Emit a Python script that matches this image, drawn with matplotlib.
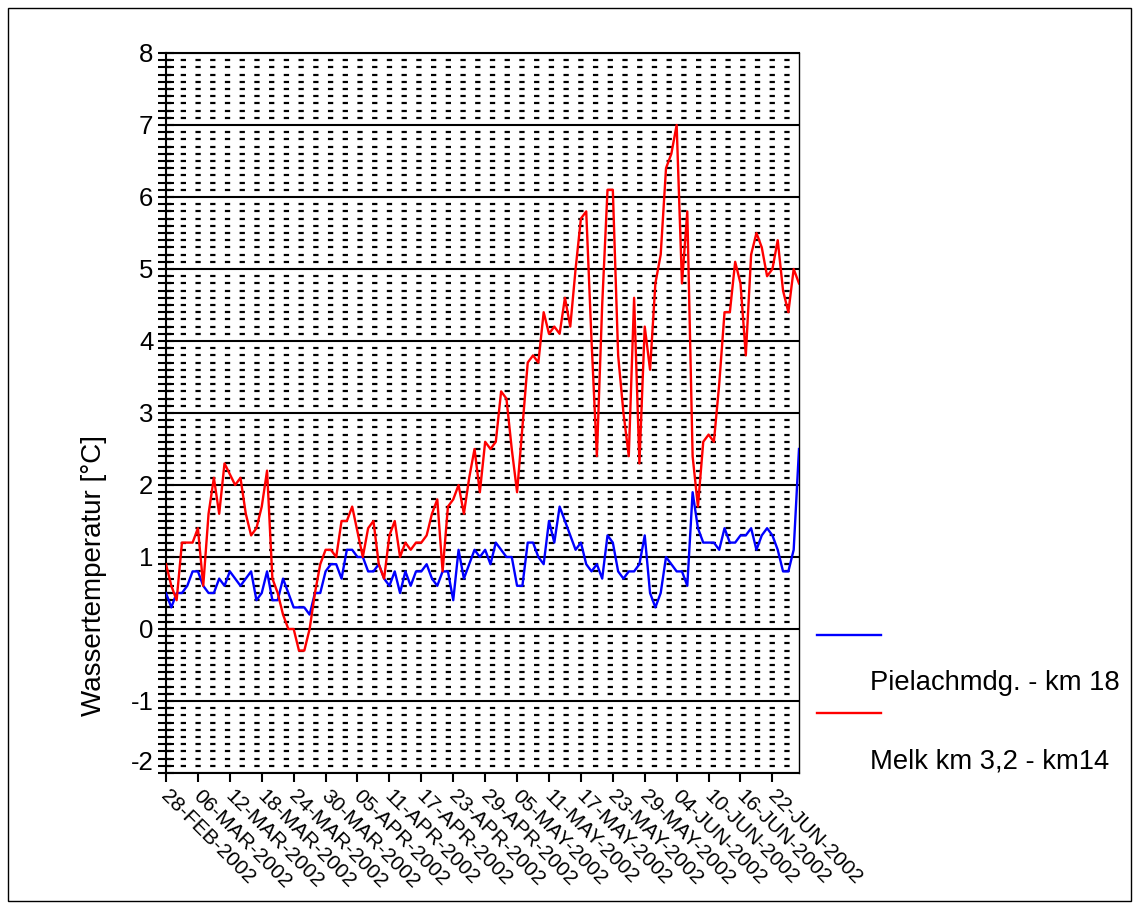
import matplotlib
matplotlib.use("Agg")
import matplotlib.pyplot as plt
import matplotlib.transforms as mtransforms
from matplotlib.lines import Line2D
from matplotlib.patches import Rectangle
import numpy as np
import pandas as pd

plt.rcParams['font.family'] = ['Liberation Sans', 'DejaVu Sans']
plt.rcParams['lines.scale_dashes'] = False

# ---------------- data ----------------
start_date = "2002-02-28"

pielach = [  # blue, Pielachmdg. - km 18
    0.5, 0.3, 0.5, 0.5, 0.6, 0.8, 0.8, 0.6, 0.5, 0.5,
    0.7, 0.6, 0.8, 0.7, 0.6, 0.7, 0.8, 0.4, 0.5, 0.8,
    0.4, 0.4, 0.7, 0.5, 0.3, 0.3, 0.3, 0.2, 0.5, 0.5,
    0.8, 0.9, 0.9, 0.7, 1.1, 1.1, 1.0, 1.0, 0.8, 0.8,
    0.9, 0.7, 0.6, 0.8, 0.5, 0.8, 0.6, 0.8, 0.8, 0.9,
    0.7, 0.6, 0.8, 0.8, 0.4, 1.1, 0.7, 0.9, 1.1, 1.0,
    1.1, 0.9, 1.2, 1.1, 1.0, 1.0, 0.6, 0.6, 1.2, 1.2,
    1.0, 0.9, 1.5, 1.2, 1.7, 1.5, 1.3, 1.1, 1.2, 0.9,
    0.8, 0.9, 0.7, 1.3, 1.2, 0.8, 0.7, 0.8, 0.8, 0.9,
    1.3, 0.5, 0.3, 0.5, 1.0, 0.9, 0.8, 0.8, 0.6, 1.9,
    1.4, 1.2, 1.2, 1.2, 1.1, 1.4, 1.2, 1.2, 1.3, 1.3,
    1.4, 1.1, 1.3, 1.4, 1.3, 1.1, 0.8, 0.8, 1.1, 2.5,
]

melk = [  # red, Melk km 3,2 - km14
    0.9, 0.6, 0.4, 1.2, 1.2, 1.2, 1.4, 0.6, 1.6, 2.1,
    1.6, 2.3, 2.15, 2.0, 2.1, 1.6, 1.3, 1.4, 1.7, 2.2,
    0.7, 0.5, 0.2, 0.0, 0.0, -0.3, -0.3, 0.0, 0.5, 0.9,
    1.1, 1.1, 1.0, 1.5, 1.5, 1.7, 1.35, 1.0, 1.4, 1.5,
    0.9, 0.7, 1.3, 1.5, 1.0, 1.2, 1.1, 1.2, 1.2, 1.3,
    1.6, 1.8, 0.8, 1.7, 1.8, 2.0, 1.6, 2.1, 2.5, 1.9,
    2.6, 2.5, 2.6, 3.3, 3.2, 2.5, 1.9, 2.8, 3.7, 3.8,
    3.7, 4.4, 4.1, 4.2, 4.1, 4.6, 4.2, 5.0, 5.7, 5.8,
    4.0, 2.4, 4.5, 6.1, 6.1, 3.8, 3.0, 2.4, 4.6, 2.3,
    4.2, 3.6, 4.8, 5.2, 6.4, 6.6, 7.0, 4.8, 5.8, 2.4,
    1.7, 2.6, 2.7, 2.6, 3.4, 4.4, 4.4, 5.1, 4.8, 3.8,
    5.2, 5.5, 5.3, 4.9, 5.0, 5.4, 4.7, 4.4, 5.0, 4.8,
]

x_tick_labels = [
    "28-FEB-2002", "06-MAR-2002", "12-MAR-2002", "18-MAR-2002", "24-MAR-2002",
    "30-MAR-2002", "05-APR-2002", "11-APR-2002", "17-APR-2002", "23-APR-2002",
    "29-APR-2002", "05-MAY-2002", "11-MAY-2002", "17-MAY-2002", "23-MAY-2002",
    "29-MAY-2002", "04-JUN-2002", "10-JUN-2002", "16-JUN-2002", "22-JUN-2002",
]
y_ticks = [-2, -1, 0, 1, 2, 3, 4, 5, 6, 7, 8]
y_tick_labels = ["-2", "-1", "0", "1", "2", "3", "4", "5", "6", "7", "8"]

series_labels = ["Pielachmdg. - km 18", "Melk km 3,2 - km14"]
series_colors = ["#0000ff", "#ff0000"]
y_label = "Wassertemperatur [°C]"

# ---------------- figure ----------------
W, H = 1133, 909
fig = plt.figure(figsize=(W / 100, H / 100), dpi=100)
fig.patch.set_facecolor("white")

ax_l, ax_r, ax_t, ax_b = 166, 799, 53, 773
ax = fig.add_axes([ax_l / W, (H - ax_b) / H, (ax_r - ax_l) / W, (ax_b - ax_t) / H])

dates = pd.date_range(start_date, periods=len(melk), freq="D")
tick_dates = pd.to_datetime(x_tick_labels, format="%d-%b-%Y")

ax.plot(dates, pielach, color=series_colors[0], lw=1.7, zorder=3)
ax.plot(dates, melk, color=series_colors[1], lw=1.7, zorder=3)

ax.set_xlim(dates[0], dates[-1])
ax.set_ylim(-2, 8)

# y ticks and grid
ax.set_yticks(y_ticks)
ax.set_yticklabels(y_tick_labels)
minor = [v / 10 for v in range(-20, 81) if v % 10 != 0]
ax.set_yticks(minor, minor=True)
ax.grid(which="major", axis="y", color="black", lw=1.5, ls="-")
ax.grid(which="minor", axis="y", color="black", lw=1.6, ls=(0, (3.8, 6.8)))
ax.grid(which="both", axis="x", visible=False)

ax.tick_params(axis="y", which="both", direction="inout", length=11, width=1.5,
               labelsize=18.5, pad=3.5, colors="black")

# x ticks
ax.set_xticks(tick_dates)
ax.set_xticklabels(x_tick_labels, rotation=-45, ha="left", va="top",
                   rotation_mode="anchor")
ax.tick_params(axis="x", which="major", direction="out", length=6.5, width=1.5,
               labelsize=15, pad=3.0)
ax.tick_params(axis="x", which="minor", bottom=False)

for sp in ax.spines.values():
    sp.set_linewidth(1.5)
    sp.set_color("black")
ax.spines["right"].set_linewidth(1.0)

# small offsets to match the reference label placement
for lab in ax.get_xticklabels():
    lab.set_transform(lab.get_transform() +
                      mtransforms.ScaledTranslation(5 / 100, 0, fig.dpi_scale_trans))
for lab in ax.get_yticklabels():
    if lab.get_text() == "-2":
        lab.set_transform(lab.get_transform() +
                          mtransforms.ScaledTranslation(0, 13 / 100, fig.dpi_scale_trans))

# y label
ax.set_ylabel(y_label, fontsize=20, va="center")
ax.yaxis.set_label_coords((94 - ax_l) / (ax_r - ax_l), (ax_b - 575) / (ax_b - ax_t))

# legend (staggered layout: line, then label below)
leg_lines_y = [635, 713]
leg_text_y = [690, 768]
for i in range(2):
    fig.add_artist(Line2D([817 / W, 881 / W], [1 - leg_lines_y[i] / H] * 2,
                          color=series_colors[i], lw=1.7, transform=fig.transFigure))
    fig.text(870 / W, 1 - leg_text_y[i] / H, series_labels[i], fontsize=19.7,
             ha="left", va="baseline")

# frame around the whole picture
fig.add_artist(Rectangle((8 / W, 1 - 901 / H), (1131 - 8) / W, (901 - 8) / H,
                         transform=fig.transFigure, fill=False, ec="black", lw=1.0))

fig.savefig("out.png", dpi=100, facecolor="white")
